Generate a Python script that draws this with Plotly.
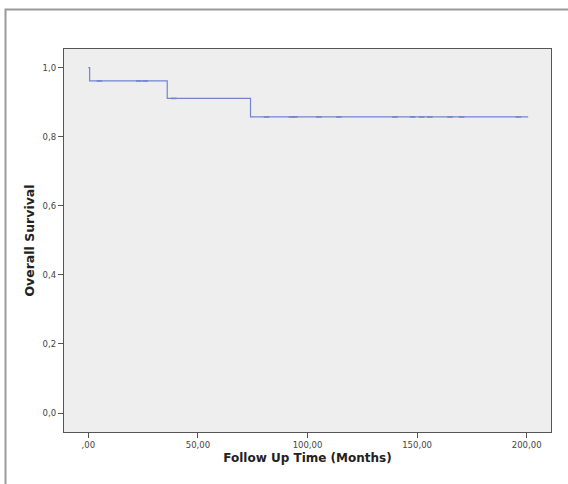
import plotly.graph_objects as go

# Kaplan-Meier step data
step_times = [0.0, 0.6, 36.0, 74.0, 200.7]
step_surv = [1.0, 0.9615, 0.9109, 0.8573, 0.8573]

# censored observations
censor_times = [5.0, 23.0, 26.0, 39.0, 81.3, 92.7, 94.2, 105.2, 114.3, 139.9,
                148.0, 152.1, 155.8, 165.0, 170.3, 196.2]
censor_surv = [0.9615, 0.9615, 0.9615, 0.9109] + [0.8573] * 12

x_tickvals = [0, 50, 100, 150, 200]
x_ticktext = [",00", "50,00", "100,00", "150,00", "200,00"]
y_tickvals = [0.0, 0.2, 0.4, 0.6, 0.8, 1.0]
y_ticktext = ["0,0", "0,2", "0,4", "0,6", "0,8", "1,0"]

line_color = "#7384cf"

fig = go.Figure()
fig.add_trace(go.Scatter(
    x=step_times, y=step_surv, mode="lines", line_shape="hv",
    line=dict(color=line_color, width=1.2), showlegend=False, hoverinfo="skip"))
fig.add_trace(go.Scatter(
    x=censor_times, y=censor_surv, mode="markers",
    marker=dict(symbol="line-ew-open", size=4, color=line_color,
                line=dict(color=line_color, width=1.6)),
    showlegend=False, hoverinfo="skip"))

L, R, T, B = 64, 17, 49, 52
W, H = 568, 484
pw, ph = W - L - R, H - T - B

fig.update_layout(
    width=W, height=H,
    margin=dict(l=L, r=R, t=T, b=B, pad=0),
    paper_bgcolor="white", plot_bgcolor="#eeeeee",
    font=dict(family="DejaVu Sans", color="#444444", size=8),
    shapes=[dict(type="rect", xref="paper", yref="paper",
                 x0=(5.5 - L) / pw, x1=2.0,
                 y0=-1.0, y1=(H - B - 9.5) / ph,
                 line=dict(color="#9a9a9a", width=2), layer="below")],
)
fig.update_xaxes(
    range=[-11.1, 211.1], tickvals=x_tickvals, ticktext=x_ticktext,
    showgrid=False, zeroline=False, showline=True, mirror=True,
    linecolor="#555555", linewidth=1.3, ticks="outside", ticklen=5,
    tickcolor="#555555", tickwidth=1.3, tickfont=dict(size=8.5),
    title=dict(text="<b>Follow Up Time (Months)</b>",
               font=dict(size=12, color="#222222"), standoff=4))
fig.update_yaxes(
    range=[-0.055, 1.054], tickvals=y_tickvals, ticktext=y_ticktext,
    showgrid=False, zeroline=False, showline=True, mirror=True,
    linecolor="#555555", linewidth=1.3, ticks="outside", ticklen=5,
    tickcolor="#555555", tickwidth=1.3, tickfont=dict(size=8.5),
    title=dict(text="<b>Overall Survival</b>",
               font=dict(size=12.5, color="#222222"), standoff=5))

fig.write_html("out.html", config={"displayModeBar": False},
               post_script="document.body.style.margin='0';")
